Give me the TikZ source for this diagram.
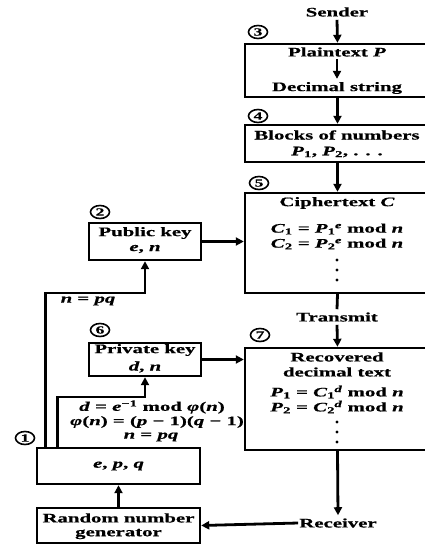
\documentclass[tikz,border=0pt]{standalone}
\usepackage{fontspec}
\setmainfont[FakeStretch=1.6,FakeBold=0.6]{Liberation Serif}
\usetikzlibrary{arrows.meta,shapes.geometric}
\newcommand{\V}[1]{\textit{#1}}
\newcommand{\sbsp}[2]{\textsubscript{#1}\kern-0.5pt\textsuperscript{#2}}
\begin{document}
\begin{tikzpicture}[x=1pt,y=-1pt,
  every node/.style={font=\bfseries\fontsize{13}{15}\selectfont, inner sep=0pt},
  box/.style={draw, line width=2.4pt, rectangle},
  conn/.style={line width=2.8pt},
  arr/.style={line width=2.8pt, -{Triangle[length=8pt,width=8pt]}},
  num/.style={draw, ellipse, line width=1.6pt, minimum width=19pt, minimum height=13pt, inner sep=0pt, font=\bfseries\fontsize{11}{11}\selectfont},
  dot/.style={fill, ellipse, minimum width=3.4pt, minimum height=3.4pt, inner sep=0pt}]
\useasboundingbox (0,0) rectangle (424,544);

% right column boxes
\node[box, minimum width=185pt, minimum height=53pt] (b3) at (337.5,70.5) {};
\node[box, minimum width=185pt, minimum height=37pt] (b4) at (337.5,143.5) {};
\node[box, minimum width=185pt, minimum height=100pt] (b5) at (337.5,243) {};
\node[box, minimum width=185pt, minimum height=102pt] (b7) at (337.5,399) {};

% left column boxes
\node[box, minimum width=112pt, minimum height=37pt] (pub) at (145,241.5) {};
\node[box, minimum width=112pt, minimum height=33pt] (priv) at (145,359.5) {};
\node[box, minimum width=163pt, minimum height=36pt] (epq) at (118.5,466) {};
\node[box, minimum width=163pt, minimum height=35pt] (rng) at (118.5,525.5) {};

% number marks
\node[num] (n1) at (25,438) {1};
\node[num] (n2) at (100,212) {2};
\node[num] (n3) at (258,32) {3};
\node[num] (n4) at (258,116) {4};
\node[num] (n5) at (259,183) {5};
\node[num] (n6) at (100,330) {6};
\node[num] (n7) at (260,335) {7};

% texts
\node (sender) at (337,12) {Sender};
\node (plain) at (337,52) {Plaintext \V{P}};
\node (dec) at (337,88) {Decimal string};
\node (blocks) at (337,135) {Blocks of numbers};
\node (pp) at (337,152) {\V{P}\textsubscript{1}, \V{P}\textsubscript{2}, . . .};
\node (ct) at (337,203) {Ciphertext \V{C}};
\node (c1) at (337,229) {\V{C}\textsubscript{1} = \V{P}\sbsp{1}{\V{e}} mod \V{n}};
\node (c2) at (337,244) {\V{C}\textsubscript{2} = \V{P}\sbsp{2}{\V{e}} mod \V{n}};
\node (transmit) at (337,317) {Transmit};
\node (rec) at (337,357) {Recovered};
\node (dtext) at (337,372) {decimal text};
\node (p1) at (337,392) {\V{P}\textsubscript{1} = \V{C}\sbsp{1}{\V{d}} mod \V{n}};
\node (p2) at (337,407) {\V{P}\textsubscript{2} = \V{C}\sbsp{2}{\V{d}} mod \V{n}};
\node (receiver) at (338,523) {Receiver};

\node (pubt) at (145,233) {Public key};
\node (pubv) at (145,249) {\V{e}, \V{n}};
\node (privt) at (145,350) {Private key};
\node (privv) at (145,367) {\V{d}, \V{n}};
\node (epqt) at (118.5,466) {\V{e}, \V{p}, \V{q}};
\node (rngt1) at (118.5,518) {Random number};
\node (rngt2) at (118.5,534) {generator};

\node (npq1) at (88,301) {\V{n} = \V{pq}};
\node (f1) at (152,407) {\V{d} = \V{e}\textsuperscript{−1} mod \V{φ}(\V{n})};
\node (f2) at (157,422) {\V{φ}(\V{n}) = (\V{p} − 1)(\V{q} − 1)};
\node (f3) at (151,437) {\V{n} = \V{pq}};

% dots
\node[dot] (d51) at (337,260) {};
\node[dot] (d52) at (337,270) {};
\node[dot] (d53) at (337,280) {};
\node[dot] (d71) at (337,422) {};
\node[dot] (d72) at (337,432) {};
\node[dot] (d73) at (337,442) {};

% connectors
\draw[arr] ([yshift=-3pt]sender.south) -- (b3.north);
\draw[arr] ([yshift=-2pt]plain.south) -- ([yshift=3pt]dec.north);
\draw[arr] (b3.south) -- (b4.north);
\draw[arr] (b4.south) -- (b5.north);
\draw[conn] (b5.south) -- ([yshift=3pt]transmit.north);
\draw[arr] ([yshift=-3pt]transmit.south) -- (b7.north);
\draw[arr] (b7.south) -- ([yshift=3pt]receiver.north);
\draw[arr] ([xshift=-1pt]receiver.west) -- (rng.east);
\draw[arr] (rng.north) -- (epq.south);
\draw[arr] (pub.east) -- (pub.east -| b5.west);
\draw[arr] (priv.east) -- (priv.east -| b7.west);
\coordinate (k1) at (145,293);
\coordinate (k2) at (145,397);
\draw[arr] ([xshift=10pt]epq.north west) |- (k1) -- (pub.south);
\draw[arr] ([xshift=22pt]epq.north west) |- (k2) -- (priv.south);
\end{tikzpicture}
\end{document}
